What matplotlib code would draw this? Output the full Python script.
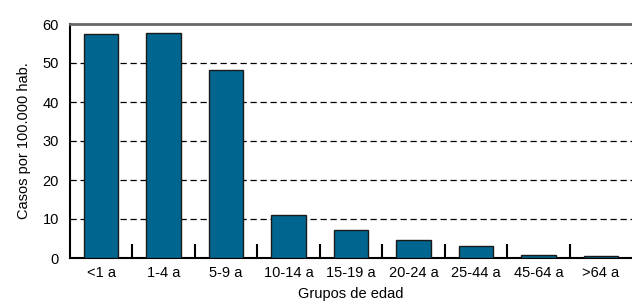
import numpy as np
import matplotlib.pyplot as plt
from matplotlib.ticker import FixedLocator

# datos
grupos = ['<1 a', '1-4 a', '5-9 a', '10-14 a', '15-19 a', '20-24 a', '25-44 a', '45-64 a', '>64 a']
casos = [57.5, 57.8, 48.2, 10.9, 7.2, 4.7, 3.1, 0.85, 0.6]

plt.rcParams['font.family'] = ['Liberation Sans Narrow', 'Liberation Sans', 'DejaVu Sans']

fig = plt.figure(figsize=(6.32, 3.06), dpi=100)
ax = fig.add_axes([70 / 632, 48 / 306, 1 - 70 / 632, 234 / 306])

x = np.arange(len(grupos))
ax.bar(x, casos, width=0.55, color='#00668f', edgecolor='#1a1a1a', linewidth=1.0, zorder=3)

ax.set_xlim(-0.5, len(grupos) - 0.5)
ax.set_ylim(0, 60)
ax.set_yticks(range(0, 61, 10))

for v in range(10, 60, 10):
    ax.axhline(v, color='black', linestyle=(0, (5, 3)), linewidth=0.9, zorder=1)

ax.set_xticks(x)
ax.set_xticklabels(grupos)
ax.xaxis.set_minor_locator(FixedLocator(np.arange(0.5, len(grupos) - 0.5, 1)))
ax.tick_params(axis='x', which='major', length=0, pad=6, labelsize=10.5)
ax.tick_params(axis='x', which='minor', direction='in', length=10, width=1.5, color='black')
ax.tick_params(axis='y', length=0, pad=8, labelsize=10.5)

ax.spines['top'].set_visible(True)
ax.spines['top'].set_color('#666666')
ax.spines['top'].set_linewidth(2.0)
ax.spines['top'].set_zorder(5)
ax.spines['right'].set_visible(False)
ax.spines['left'].set_linewidth(1.5)
ax.spines['bottom'].set_linewidth(1.5)

ax.set_xlabel('Grupos de edad', fontsize=10.5, labelpad=5)
ax.set_ylabel('Casos por 100.000 hab.', fontsize=10.5, labelpad=8)

fig.savefig('out.png', dpi=100)
